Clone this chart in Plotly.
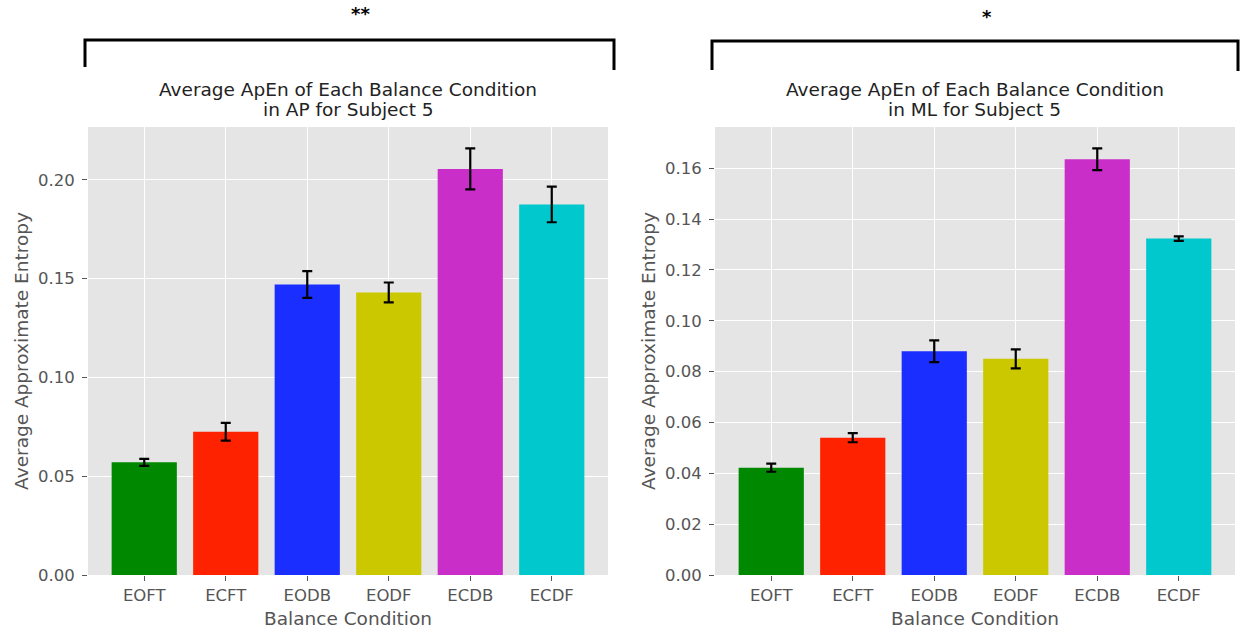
import plotly.graph_objects as go

W, H = 1242, 632
R = 622  # effective rendered height used for pixel -> paper mapping

conditions = ["EOFT", "ECFT", "EODB", "EODF", "ECDB", "ECDF"]
colors = ["#008800", "#FF2200", "#1A2EFF", "#CCC800", "#CA2EC9", "#00C8CC"]

ap_values = [0.0570, 0.0725, 0.1470, 0.1430, 0.2055, 0.1875]
ap_errors = [0.0018, 0.0045, 0.0068, 0.0050, 0.0104, 0.0090]

ml_values = [0.0422, 0.0540, 0.0880, 0.0850, 0.1635, 0.1323]
ml_errors = [0.0016, 0.0018, 0.0043, 0.0037, 0.0043, 0.0009]

title_line1 = "Average ApEn of Each Balance Condition"
title_line2 = ["in AP for Subject 5", "in ML for Subject 5"]
stars = ["**", "*"]

FONT = "DejaVu Sans"
GRAY = "#555555"

def px_x(p):
    return p / W

def px_y(p):
    return 1 - p / R

dom_y = [px_y(575), px_y(127)]
dom_x1 = [px_x(88), px_x(608)]
dom_x2 = [px_x(715), px_x(1235)]

fig = go.Figure()
for i, (vals, errs) in enumerate([(ap_values, ap_errors), (ml_values, ml_errors)]):
    suffix = "" if i == 0 else "2"
    fig.add_trace(go.Bar(
        x=conditions, y=vals,
        marker=dict(color=colors, line=dict(width=0)),
        width=0.8,
        error_y=dict(type="data", array=errs, color="black", thickness=2.2, width=5),
        xaxis="x" + suffix, yaxis="y" + suffix,
        showlegend=False,
    ))

axis_common = dict(
    showgrid=True, gridcolor="white", gridwidth=1.4,
    ticks="outside", ticklen=5, tickcolor=GRAY, tickwidth=1,
    tickfont=dict(family=FONT, size=16.5, color=GRAY),
    zeroline=False, showline=False,
)
title_font = dict(family=FONT, size=18.5, color=GRAY)

xr = [-0.69, 5.69]
ymax1 = (ap_values[4] + ap_errors[4]) * 1.05
ymax2 = (ml_values[4] + ml_errors[4]) * 1.05

fig.update_layout(
    width=W, height=H,
    margin=dict(l=0, r=0, t=0, b=0),
    paper_bgcolor="white",
    plot_bgcolor="#E5E5E5",
    font=dict(family=FONT),
    xaxis=dict(domain=dom_x1, anchor="y", range=xr, type="category", ticklabelstandoff=0,
               title=dict(text="Balance Condition", font=title_font, standoff=8),
               **axis_common),
    yaxis=dict(domain=dom_y, anchor="x", range=[0, ymax1], dtick=0.05, tickformat=".2f",
               ticklabelstandoff=4,
               title=dict(text="Average Approximate Entropy", font=title_font, standoff=4),
               **axis_common),
    xaxis2=dict(domain=dom_x2, anchor="y2", range=xr, type="category", ticklabelstandoff=0,
                title=dict(text="Balance Condition", font=title_font, standoff=8),
                **axis_common),
    yaxis2=dict(domain=dom_y, anchor="x2", range=[0, ymax2], dtick=0.02, tickformat=".2f",
                ticklabelstandoff=4,
                title=dict(text="Average Approximate Entropy", font=title_font, standoff=4),
                **axis_common),
)

# bracket geometry (pixels)
brackets = [
    dict(x0=85, x1=614, y=40, yl=67, yr=70, star_x=360, star_y=14),
    dict(x0=712, x1=1238, y=41, yl=70, yr=71, star_x=987, star_y=17),
]
for i, b in enumerate(brackets):
    path = (f"M {px_x(b['x0'])},{px_y(b['yl'])} L {px_x(b['x0'])},{px_y(b['y'])} "
            f"L {px_x(b['x1'])},{px_y(b['y'])} L {px_x(b['x1'])},{px_y(b['yr'])}")
    fig.add_shape(type="path", path=path, xref="paper", yref="paper",
                  line=dict(color="black", width=3))
    fig.add_annotation(text="<b>" + stars[i] + "</b>", x=px_x(b["star_x"]), y=px_y(b["star_y"]),
                       xref="paper", yref="paper", showarrow=False,
                       font=dict(family=FONT, size=18, color="black"),
                       xanchor="center", yanchor="middle")

for i, dom in enumerate([dom_x1, dom_x2]):
    cx = (dom[0] + dom[1]) / 2
    for text, ypx in [(title_line1, 89), (title_line2[i], 109)]:
        fig.add_annotation(text=text, x=cx, y=px_y(ypx),
                           xref="paper", yref="paper", showarrow=False,
                           font=dict(family=FONT, size=18.5, color="#222222"),
                           xanchor="center", yanchor="middle", align="center")

fig.write_html("out.html")
